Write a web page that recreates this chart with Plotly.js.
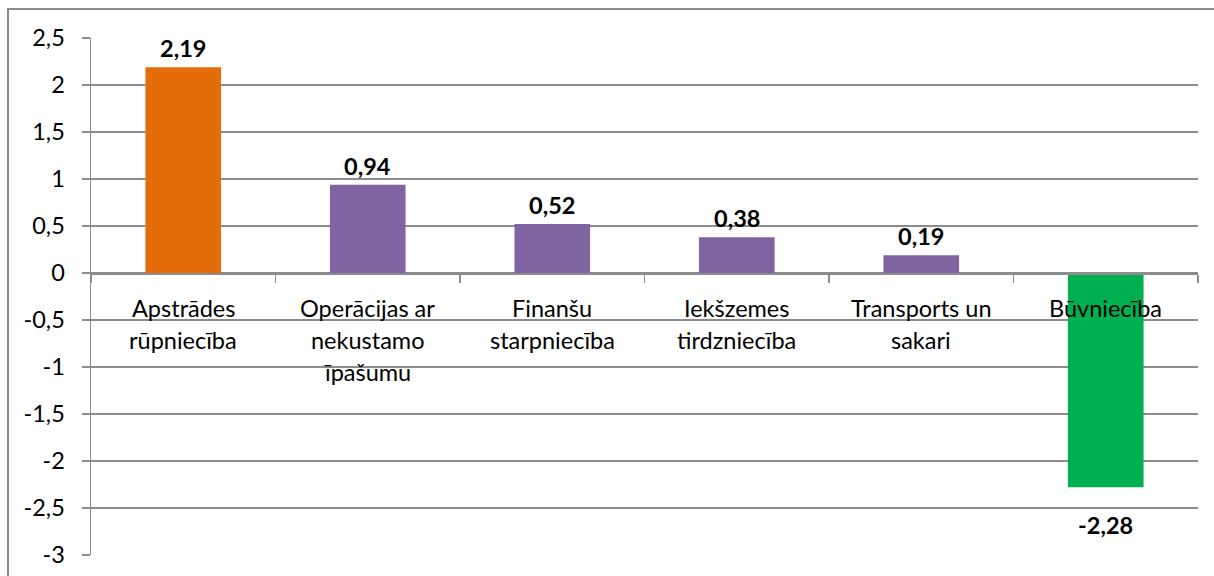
<!DOCTYPE html>
<html>
<head>
<meta charset="utf-8">
<script src="https://cdn.plot.ly/plotly-3.0.1.min.js"></script>
<style>
  html, body { margin: 0; padding: 0; background: #fff; }
  #wrap { position: relative; width: 1214px; height: 576px; overflow: hidden; }
  #chart { position: absolute; left: 0; top: 0; width: 1214px; height: 576px; }
  #frame { position: absolute; left: 7px; top: 8px; width: 1300px; height: 700px;
           border: 2px solid #8a8a8a; pointer-events: none; box-sizing: border-box; }
</style>
</head>
<body>
<div id="wrap">
  <div id="chart"></div>
  <div id="frame"></div>
</div>
<script>
const categories = [
  "Apstrādes<br>rūpniecība",
  "Operācijas ar<br>nekustamo<br>īpašumu",
  "Finanšu<br>starpniecība",
  "Iekšzemes<br>tirdzniecība",
  "Transports un<br>sakari",
  "Būvniecība"
];
const values = [2.19, 0.94, 0.52, 0.38, 0.19, -2.28];
const barColors = ["#E46C0A", "#8064A2", "#8064A2", "#8064A2", "#8064A2", "#00B050"];
const yTickVals = [-3, -2.5, -2, -1.5, -1, -0.5, 0, 0.5, 1, 1.5, 2, 2.5];
const yTickLabels = ["-3", "-2,5", "-2", "-1,5", "-1", "-0,5", "0", "0,5", "1", "1,5", "2", "2,5"];

const FONT = "Lato, 'Open Sans', sans-serif";
const FS = 23.5;
const GRID = "#8c8c8c";

const annotations = [];
// value labels
values.forEach((v, i) => {
  annotations.push({
    x: categories[i], y: v, xref: "x", yref: "y",
    text: "<b>" + v.toFixed(2).replace(".", ",") + "</b>",
    showarrow: false, yanchor: "middle",
    yshift: v >= 0 ? 19 : -38,
    font: { family: FONT, size: FS, color: "#000" }
  });
});
// category labels at the zero line
categories.forEach((c) => {
  c.split("<br>").forEach((line, j) => {
    annotations.push({
      x: c, y: 0, xref: "x", yref: "y",
      text: line, showarrow: false, yanchor: "middle",
      yshift: -35 - 32 * j,
      font: { family: FONT, size: FS, color: "#000" }
    });
  });
});

const data = [{
  type: "bar",
  x: categories,
  y: values,
  marker: { color: barColors, line: { width: 0 } },
  width: 0.41,
  hoverinfo: "none"
}, {
  type: "bar",
  x: categories,
  y: values.map(() => null),
  xaxis: "x2",
  yaxis: "y",
  showlegend: false,
  hoverinfo: "none"
}];

const layout = {
  width: 1214, height: 576,
  margin: { l: 91, r: 16, t: 38, b: 21 },
  paper_bgcolor: "#fff", plot_bgcolor: "#fff",
  separators: ", ",
  showlegend: false,
  font: { family: FONT, size: FS, color: "#000" },
  xaxis: {
    type: "category",
    categoryorder: "array", categoryarray: categories,
    range: [-0.5, 5.5],
    showticklabels: false, showgrid: false, zeroline: false,
    showline: false, ticks: ""
  },
  xaxis2: {
    type: "category",
    overlaying: "x",
    matches: "x",
    anchor: "free",
    position: 3 / 5.5,
    categoryorder: "array", categoryarray: categories,
    range: [-0.5, 5.5],
    showticklabels: false, showgrid: false, zeroline: false,
    showline: true, linecolor: GRID, linewidth: 1.5,
    ticks: "outside", tickson: "boundaries", ticklen: 8,
    tickcolor: GRID, tickwidth: 1.5
  },
  yaxis: {
    range: [-3, 2.5],
    tickmode: "array",
    tickvals: yTickVals,
    ticktext: yTickLabels,
    showgrid: true, gridcolor: GRID, gridwidth: 1.5,
    zeroline: false,
    showline: true, linecolor: GRID, linewidth: 1.5,
    ticks: "outside", ticklen: 8, tickcolor: GRID, tickwidth: 1.5,
    ticklabelstandoff: 12,
    tickfont: { family: FONT, size: FS, color: "#000" }
  },
  annotations: annotations
};

Plotly.newPlot("chart", data, layout, { displayModeBar: false, staticPlot: true });
</script>
</body>
</html>
